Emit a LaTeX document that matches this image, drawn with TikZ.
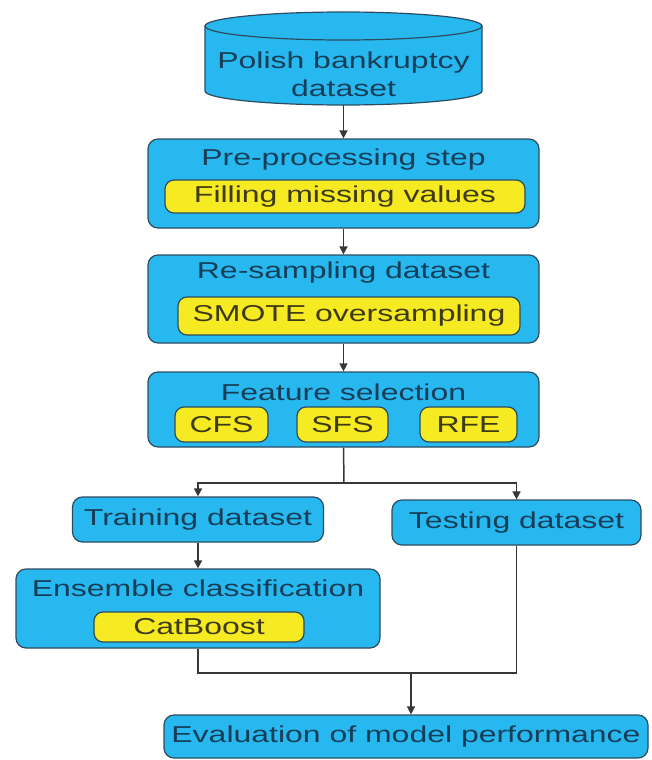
\documentclass[tikz,border=0pt]{standalone}
\usepackage{fontspec}
\setmainfont{Liberation Sans}[FakeStretch=1.39]
\usetikzlibrary{arrows.meta}

\definecolor{boxcyan}{RGB}{40,184,240}
\definecolor{tagyellow}{RGB}{246,234,34}
\definecolor{edge}{RGB}{45,75,95}
\definecolor{titletext}{RGB}{22,62,88}
\definecolor{tagtext}{RGB}{62,58,22}
\definecolor{wirecol}{RGB}{55,55,55}

\begin{document}
\begin{tikzpicture}[x=1pt, y=-1pt,
  font=\fontsize{23}{28}\selectfont,
  panel/.style={draw=edge, fill=boxcyan, rounded corners=10pt, line width=1.2pt, inner sep=0pt},
  tag/.style={draw=edge, fill=tagyellow, rounded corners=9pt, line width=1.2pt, inner sep=0pt, text=tagtext},
  title/.style={inner sep=0pt, text=titletext},
  wire/.style={draw=wirecol, line width=1.5pt},
  flow/.style={wire, -{Triangle[length=8pt,width=8pt]}}]
\useasboundingbox (0,0) rectangle (651,760);

% data source cylinder
\node[minimum width=277pt, minimum height=93pt, inner sep=0pt] (db) at (343.5,58.5) {};
\path[fill=boxcyan] (205,26) -- (205,91) arc[start angle=180, end angle=0, x radius=138.5, y radius=14] -- (482,26) -- cycle;
\draw[edge, line width=1.2pt] (205,26) -- (205,91) arc[start angle=180, end angle=0, x radius=138.5, y radius=14] -- (482,26);
\draw[edge, fill=boxcyan, line width=1.2pt] (343.5,26) ellipse[x radius=138.5, y radius=14];
\node[title, align=center] (dbT) at (343.5,74) {Polish bankruptcy\\dataset};

% pre-processing
\node[panel, minimum width=391pt, minimum height=89pt] (pre) at (343.5,183.5) {};
\node[title] (preT) at (343.5,160) {Pre-processing step};
\node[tag, minimum width=360pt, minimum height=33pt] (fill) at (345,196.5) {Filling missing values};

% re-sampling
\node[panel, minimum width=391pt, minimum height=88pt] (res) at (343.5,299) {};
\node[title] (resT) at (343.5,273) {Re-sampling dataset};
\node[tag, minimum width=342pt, minimum height=38pt] (smote) at (349,316) {SMOTE oversampling};

% feature selection
\node[panel, minimum width=391pt, minimum height=75pt] (feat) at (343.5,409.5) {};
\node[title] (featT) at (343.5,392) {Feature selection};
\node[tag, minimum width=93pt, minimum height=35pt] (cfs) at (221.5,424.5) {CFS};
\node[tag, minimum width=91pt, minimum height=35pt] (sfs) at (342.5,424.5) {SFS};
\node[tag, minimum width=97pt, minimum height=35pt] (rfe) at (468.5,424.5) {RFE};

% train / test split
\node[panel, minimum width=251pt, minimum height=45pt, text=titletext] (train) at (198,519.5) {Training dataset};
\node[panel, minimum width=249pt, minimum height=45pt, text=titletext] (test) at (516.5,522.5) {Testing dataset};

% classifier
\node[panel, minimum width=364pt, minimum height=79pt] (ens) at (198,608.5) {};
\node[title] (ensT) at (198,588) {Ensemble classification};
\node[tag, minimum width=210pt, minimum height=30pt] (cat) at (199,627) {CatBoost};

% evaluation
\node[panel, minimum width=484pt, minimum height=43pt, text=titletext] (eval) at (406,736.5) {Evaluation of model performance};

% connectors
\coordinate (split) at (344,483);
\coordinate (join) at (411,673);
\draw[flow] (db.south) -- (pre.north);
\draw[flow] (pre.south) -- (res.north);
\draw[flow] (res.south) -- (feat.north);
\draw[wire] (feat.south) -- (split);
\draw[flow] (split) -| (train.north);
\draw[flow] (split) -| (test.north);
\draw[flow] (train.south) -- (ens.north);
\draw[wire] (ens.south) |- (join);
\draw[wire] (test.south) |- (join);
\draw[flow] (join) -- (join |- eval.north);
\end{tikzpicture}
\end{document}
